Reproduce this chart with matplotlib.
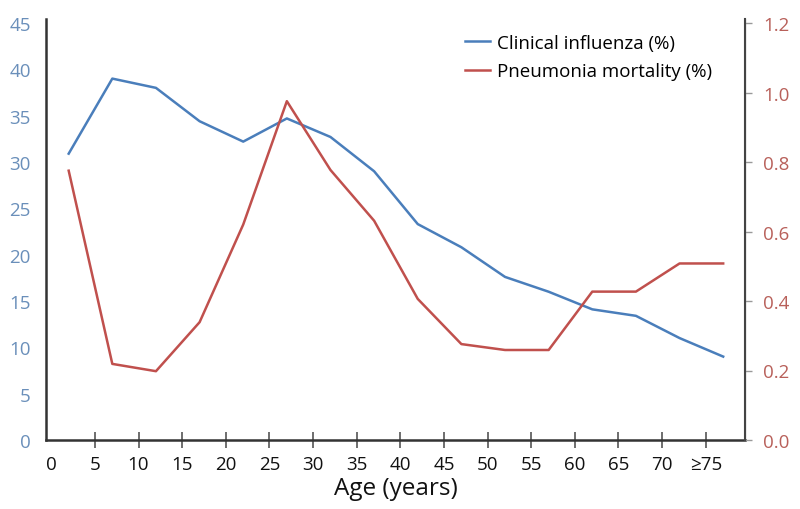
import matplotlib
matplotlib.use("Agg")
import matplotlib.pyplot as plt

plt.rcParams['font.family'] = ['Open Sans', 'DejaVu Sans']

age_mid = [2, 7, 12, 17, 22, 27, 32, 37, 42, 47, 52, 57, 62, 67, 72, 77]
influenza = [30.9, 39.0, 38.0, 34.4, 32.2, 34.7, 32.7, 29.0, 23.3, 20.8, 17.6, 16.0, 14.1, 13.4, 11.0, 9.0]
pneumonia = [0.775, 0.219, 0.198, 0.339, 0.62, 0.975, 0.777, 0.631, 0.406, 0.276, 0.259, 0.259, 0.427, 0.427, 0.508, 0.508]
tick_vals = [0, 5, 10, 15, 20, 25, 30, 35, 40, 45, 50, 55, 60, 65, 70, 75]
tick_labels = ['0', '5', '10', '15', '20', '25', '30', '35', '40', '45', '50', '55', '60', '65', '70', '≥75']
left_ticks = [0, 5, 10, 15, 20, 25, 30, 35, 40, 45]
right_ticks = [0.0, 0.2, 0.4, 0.6, 0.8, 1.0, 1.2]

blue = '#4a7ebb'
red = '#c0504d'
blue_lab = '#6a8fba'
red_lab = '#b8605a'

fig = plt.figure(figsize=(8, 5.1), dpi=100)
ax = fig.add_axes([46/800, 1-441/510, (745-46)/800, (441-20)/510])
ax2 = ax.twinx()

l1, = ax.plot(age_mid, influenza, color=blue, lw=1.8)
l2, = ax2.plot(age_mid, pneumonia, color=red, lw=1.8)

top = 45 * (441-20) / (441-24)
ax.set_ylim(0, top)
ax2.set_ylim(0, 1.2 * top / 45)
ax.set_xlim(-0.6, 79.5)

ax.set_yticks(left_ticks)
ax.set_yticklabels([str(v) for v in left_ticks])
ax2.set_yticks(right_ticks)
ax2.set_yticklabels([f'{v:.1f}' for v in right_ticks])
ax.set_xticks(tick_vals)
ax.set_xticklabels(tick_labels)

for a in (ax, ax2):
    a.spines['top'].set_visible(False)
ax.spines['left'].set_color('#333333')
ax.spines['left'].set_linewidth(1.8)
ax.spines['bottom'].set_color('#333333')
ax.spines['bottom'].set_linewidth(1.8)
ax2.spines['right'].set_color('#444444')
ax2.spines['right'].set_linewidth(1.5)
ax2.spines['left'].set_visible(False)
ax2.spines['bottom'].set_visible(False)

ax.tick_params(axis='y', length=0, pad=11, labelsize=13.5, labelcolor=blue_lab)
ax2.tick_params(axis='y', length=5, width=1, color='#999999', pad=8, labelsize=13.5, labelcolor=red_lab)
ax.tick_params(axis='x', direction='inout', length=12, width=1.2, color='#555555', pad=5, labelsize=13.5, labelcolor='#111111')
ax.xaxis.get_major_ticks()[0].tick1line.set_visible(False)

ax.set_xlabel('Age (years)', fontsize=17.5, color='#111111', labelpad=2)

ax.legend([l1, l2], ['Clinical influenza (%)', 'Pneumonia mortality (%)'],
          loc='upper left', bbox_to_anchor=(403/700, 1.005), frameon=False,
          fontsize=13.5, handlelength=1.3, handletextpad=0.4, labelspacing=0.55)

fig.savefig('out.png', dpi=100)
